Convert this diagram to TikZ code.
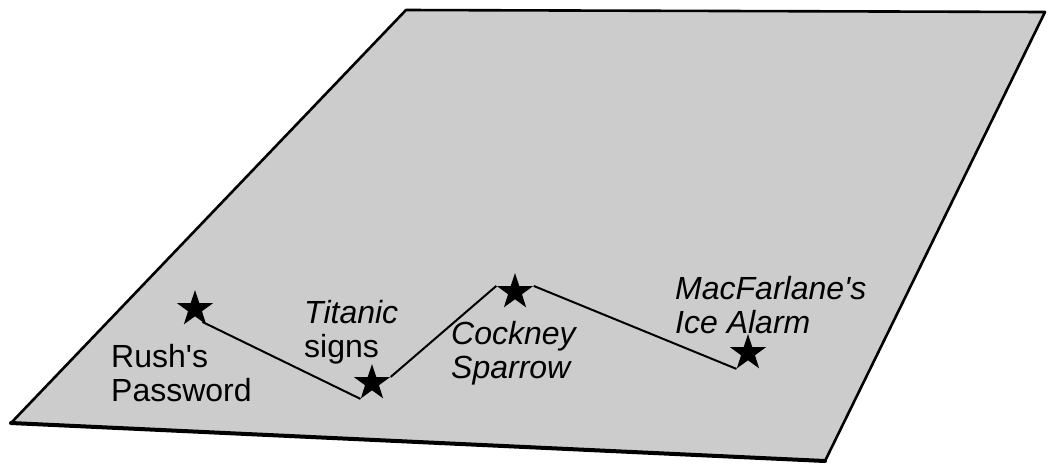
\documentclass[tikz,border=0pt]{standalone}
\usepackage{fontspec}
\setmainfont{Liberation Sans}[Ligatures=TeXOff]
\usetikzlibrary{shapes.geometric}
\begin{document}
\begin{tikzpicture}[x=1pt,y=-1pt,
  plane/.style={fill=black!20,draw=black,line width=2.6pt,line join=round},
  place/.style={star,star points=5,star point ratio=2.6,fill=black,draw=none,minimum size=38pt,inner sep=0pt},
  route/.style={line width=2pt},
  lbl/.style={anchor=north west,inner sep=0pt,align=left,font=\fontsize{32}{34}\selectfont}]
\useasboundingbox (0,0) rectangle (1048,464);
\coordinate (p1) at (406,10);
\coordinate (p2) at (1045,12);
\coordinate (p3) at (825,461);
\coordinate (p4) at (11,423);
\filldraw[plane] (p1) -- (p2) -- (p3) -- (p4) -- cycle;
\draw[line width=4pt,line cap=round] (p4) -- (p3);
\node[place] (rush) at (195,309) {};
\node[place] (tit) at (372,383) {};
\node[place] (cock) at (515,292) {};
\node[place] (mac) at (748,353) {};
\draw[route] (rush.-60) -- (tit.234);
\draw[route] (tit.18) -- (cock.162);
\draw[route] (cock.18) -- (mac.234);
\node[lbl] (lrush) at (111,344) {Rush's\\Password};
\node[lbl] (ltit) at (304,300) {\itshape Titanic\\signs};
\node[lbl,font=\fontsize{32}{34}\selectfont\itshape] (lcock) at (451,321) {Cockney\\Sparrow};
\node[lbl,font=\fontsize{32}{34}\selectfont\itshape] (lmac) at (675,276) {MacFarlane's\\Ice Alarm};
\end{tikzpicture}
\end{document}
